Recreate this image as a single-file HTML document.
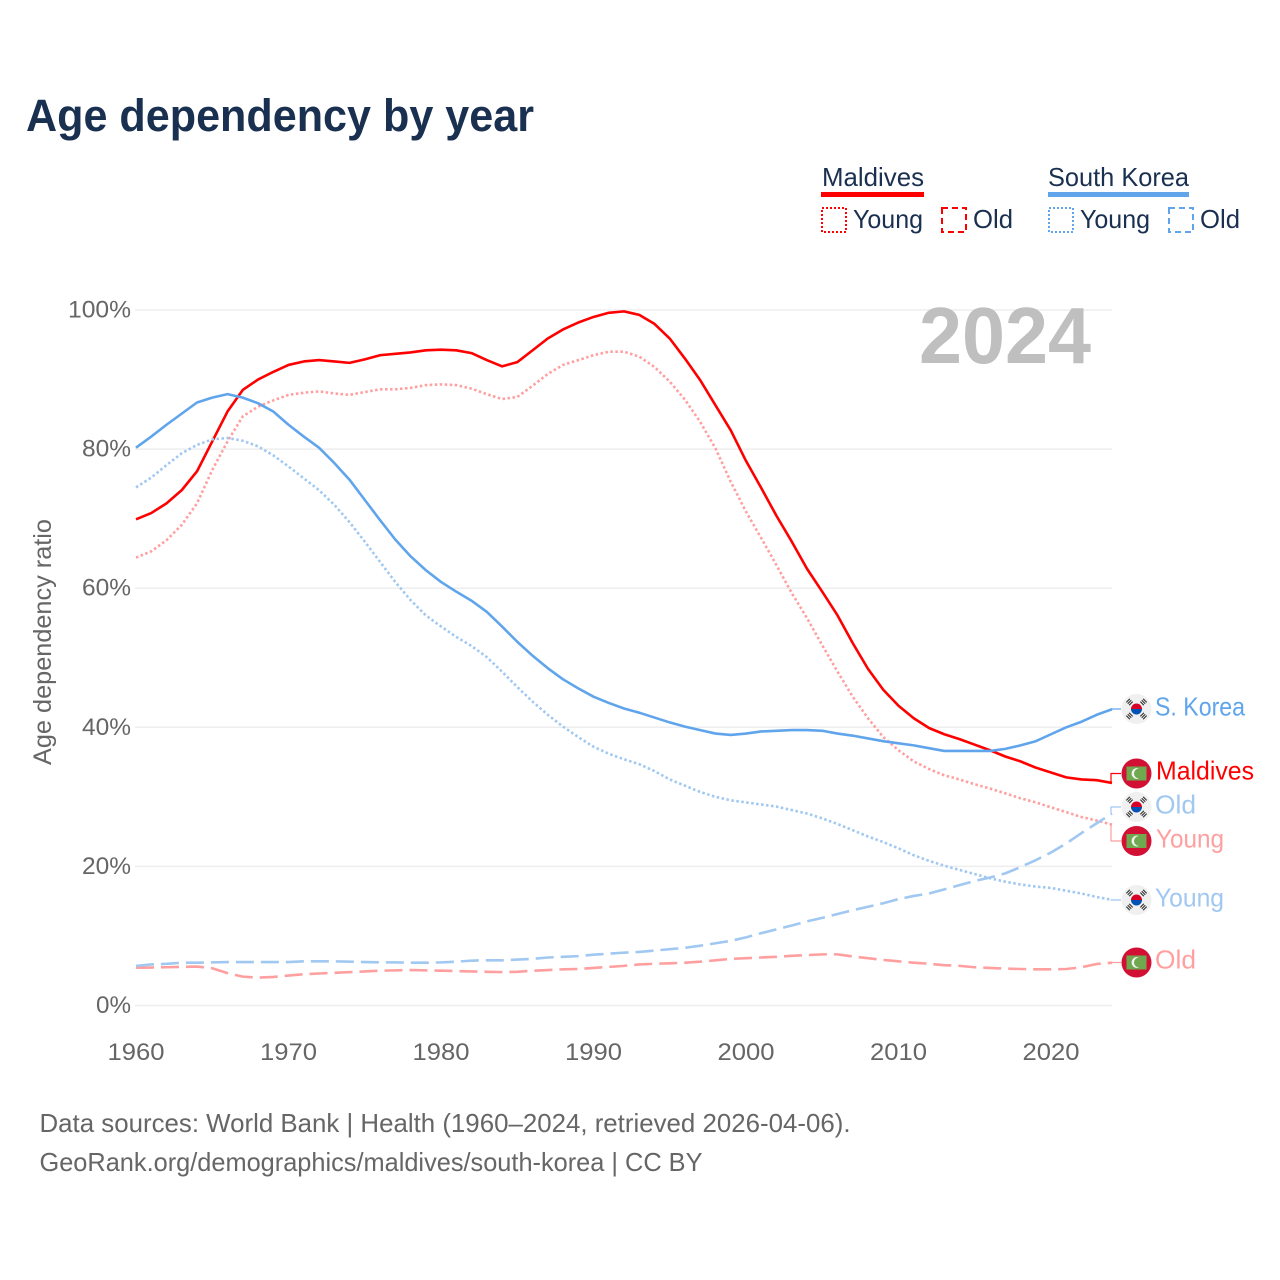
<!DOCTYPE html>
<html>
<head>
<meta charset="utf-8">
<title>Age dependency by year</title>
<style>
html,body{margin:0;padding:0;background:#fff}
svg{display:block}
text{font-family:"Liberation Sans",sans-serif}
</style>
</head>
<body>
<svg id="chart" xmlns="http://www.w3.org/2000/svg" width="1280" height="1280" viewBox="0 0 1280 1280">
<rect x="0" y="0" width="1280" height="1280" fill="#ffffff"/>
<text x="26" y="131" font-size="45" font-weight="700" fill="#1a3050" textLength="508" lengthAdjust="spacingAndGlyphs">Age dependency by year</text>

<g>
<text x="822" y="186" font-size="26" fill="#1a3050" textLength="102" lengthAdjust="spacingAndGlyphs">Maldives</text>
<rect x="821" y="192" width="103" height="5" fill="#ff0000"/>
<rect x="822" y="208" width="24" height="24" fill="none" stroke="#ff0000" stroke-width="2" stroke-dasharray="2 2"/>
<text x="853" y="228" font-size="26" fill="#1a3050" textLength="70" lengthAdjust="spacingAndGlyphs">Young</text>
<rect x="942" y="208" width="24" height="24" fill="none" stroke="#ff0000" stroke-width="2" stroke-dasharray="6 4"/>
<text x="973" y="228" font-size="26" fill="#1a3050" textLength="40" lengthAdjust="spacingAndGlyphs">Old</text>
<text x="1048" y="186" font-size="26" fill="#1a3050" textLength="141" lengthAdjust="spacingAndGlyphs">South Korea</text>
<rect x="1048" y="192" width="141" height="5" fill="#60a5ec"/>
<rect x="1049" y="208" width="24" height="24" fill="none" stroke="#60a5ec" stroke-width="2" stroke-dasharray="2 2"/>
<text x="1080" y="228" font-size="26" fill="#1a3050" textLength="70" lengthAdjust="spacingAndGlyphs">Young</text>
<rect x="1169" y="208" width="24" height="24" fill="none" stroke="#60a5ec" stroke-width="2" stroke-dasharray="6 4"/>
<text x="1200" y="228" font-size="26" fill="#1a3050" textLength="40" lengthAdjust="spacingAndGlyphs">Old</text>
</g>

<g id="grid"></g>
<text x="919" y="363" font-size="80" font-weight="700" fill="#bfbfbf" textLength="172" lengthAdjust="spacingAndGlyphs">2024</text>
<g id="yticks"></g>
<g id="xticks"></g>
<text transform="translate(51,642) rotate(-90)" text-anchor="middle" font-size="25" fill="#666666" textLength="246" lengthAdjust="spacingAndGlyphs">Age dependency ratio</text>
<g id="lines"></g>
<g id="ends"></g>

<text x="39.5" y="1132" font-size="26" fill="#666666" textLength="811" lengthAdjust="spacingAndGlyphs">Data sources: World Bank | Health (1960–2024, retrieved 2026-04-06).</text>
<text x="39.5" y="1171" font-size="26" fill="#666666" textLength="663" lengthAdjust="spacingAndGlyphs">GeoRank.org/demographics/maldives/south-korea | CC BY</text>
</svg>
<script>
const firstYear = 1960;
const yTickValues = [0, 20, 40, 60, 80, 100];
const xTickYears = [1960, 1970, 1980, 1990, 2000, 2010, 2020];
const maldivesTotal = [69.9,70.8,72.2,74.1,76.8,81.1,85.4,88.5,90,91.1,92.1,92.6,92.8,92.6,92.4,92.9,93.5,93.7,93.9,94.2,94.3,94.2,93.8,92.8,91.9,92.5,94.2,95.9,97.2,98.2,99,99.6,99.8,99.3,98,95.9,93,89.9,86.3,82.7,78.3,74.4,70.4,66.7,62.8,59.5,56.1,52.1,48.4,45.4,43.1,41.3,39.9,39,38.3,37.5,36.7,35.8,35.1,34.2,33.5,32.8,32.5,32.4,32];
const maldivesYoung = [64.4,65.3,66.9,69.1,72.2,77,81.1,84.7,86.1,87,87.8,88.1,88.3,88,87.8,88.2,88.6,88.6,88.8,89.2,89.3,89.2,88.7,87.9,87.2,87.5,89.1,90.8,92.1,92.8,93.5,94,94,93.3,91.8,89.7,87.1,83.9,80.1,75.3,71,67.2,63.3,59.3,55.7,51.8,48,44.4,41.3,38.6,36.7,35.1,34,33.1,32.5,31.8,31.2,30.5,29.8,29.2,28.5,27.8,27.1,26.6,26];
const maldivesOld = [5.44,5.46,5.5,5.55,5.6,5.35,4.65,4.15,4,4.1,4.3,4.5,4.6,4.7,4.8,4.9,5,5.05,5.1,5.05,5,4.95,4.9,4.85,4.8,4.85,5,5.1,5.2,5.25,5.4,5.55,5.7,5.9,6,6.07,6.15,6.3,6.5,6.7,6.8,6.9,7,7.15,7.25,7.35,7.35,7.05,6.8,6.55,6.35,6.15,6,5.8,5.7,5.5,5.4,5.3,5.25,5.2,5.2,5.25,5.5,5.97,6.15];
const koreaTotal = [80.2,81.8,83.5,85.1,86.7,87.4,87.9,87.4,86.6,85.4,83.5,81.8,80.2,78,75.6,72.7,69.8,67,64.6,62.6,60.9,59.5,58.2,56.6,54.5,52.3,50.3,48.5,46.9,45.6,44.4,43.5,42.7,42.1,41.4,40.7,40.1,39.6,39.1,38.9,39.1,39.4,39.5,39.6,39.6,39.5,39.1,38.8,38.4,38,37.7,37.4,37,36.6,36.6,36.6,36.6,36.9,37.4,38,39,40,40.8,41.8,42.6];
const koreaYoung = [74.5,75.9,77.7,79.4,80.6,81.4,81.6,81.2,80.4,79.1,77.5,75.8,74.1,72,69.5,66.7,63.8,60.9,58.3,56.1,54.5,53,51.7,50.1,48,45.8,43.7,41.8,40.1,38.6,37.2,36.2,35.4,34.7,33.7,32.5,31.6,30.7,30,29.5,29.2,28.9,28.6,28.1,27.6,26.9,26.1,25.2,24.3,23.5,22.6,21.6,20.8,20.1,19.5,18.9,18.3,17.8,17.4,17.1,16.9,16.5,16.1,15.6,15.2];
const koreaOld = [5.7,5.9,6,6.15,6.15,6.2,6.25,6.25,6.25,6.25,6.25,6.35,6.35,6.35,6.3,6.25,6.2,6.2,6.15,6.15,6.2,6.3,6.45,6.5,6.5,6.6,6.7,6.9,7,7.1,7.3,7.45,7.6,7.7,7.9,8.1,8.3,8.6,8.95,9.3,9.8,10.4,10.95,11.5,12.1,12.6,13.15,13.7,14.2,14.7,15.3,15.75,16.1,16.7,17.3,17.9,18.4,19,19.9,20.9,22,23.3,24.8,26.2,27.6];

const NS = 'http://www.w3.org/2000/svg';
function xScale(year) { return 136 + (year - 1960) * 15.25; }
function yScale(v) { return 1005.5 - v * 6.955; }
function pathFor(values) {
  return values.map(function (v, i) {
    return (i ? 'L' : 'M') + xScale(firstYear + i).toFixed(2) + ' ' + yScale(v).toFixed(2);
  }).join(' ');
}
function make(tag, parent, attrs) {
  const el = document.createElementNS(NS, tag);
  Object.keys(attrs).forEach(function (k) { el.setAttribute(k, attrs[k]); });
  parent.appendChild(el);
  return el;
}

const gridG = document.getElementById('grid');
const yG = document.getElementById('yticks');
const xG = document.getElementById('xticks');
yTickValues.forEach(function (v) {
  const line = make('line', gridG, {x1: 135, x2: 1112, y1: yScale(v), y2: yScale(v), stroke: '#eeeeee', 'stroke-width': 1.5});
  
  
  const t = make('text', yG, {x: 131, y: yScale(v) + 7.5, 'text-anchor': 'end', 'font-size': 24, fill: '#666666', textLength: v === 100 ? 63 : (v === 0 ? 35 : 49), lengthAdjust: 'spacingAndGlyphs'});
  t.textContent = v + '%';
  
  
});
xTickYears.forEach(function (yr) {
  const t = make('text', xG, {x: xScale(yr), y: 1060, 'text-anchor': 'middle', 'font-size': 24, fill: '#666666', textLength: 57, lengthAdjust: 'spacingAndGlyphs'});
  t.textContent = String(yr);
  
  
});

const linesG = document.getElementById('lines');
function drawSeries(values, color, dash, width, name) {
  const p = make('path', linesG, {d: pathFor(values), fill: 'none', stroke: color, 'stroke-width': width, 'stroke-linejoin': 'round'});
  if (dash) p.setAttribute('stroke-dasharray', dash);
  
  
}
const RED = '#ff0000', BLUE = '#60a5ec', LRED = '#ff9f9f', LBLUE = '#a0c8f1';
drawSeries(maldivesOld, LRED, '18 7', 2.6, 'line-maldives-old');
drawSeries(maldivesYoung, LRED, '2.5 2.5', 2.6, 'line-maldives-young');
drawSeries(maldivesTotal, RED, null, 2.6, 'line-maldives-total');
drawSeries(koreaOld, LBLUE, '18 7', 2.6, 'line-south-korea-old');
drawSeries(koreaYoung, LBLUE, '2.5 2.5', 2.6, 'line-south-korea-young');
drawSeries(koreaTotal, BLUE, null, 2.6, 'line-south-korea-total');

const endsG = document.getElementById('ends');
function drawKoreaFlag(g, cy) {
  make('circle', g, {cx: 1136.5, cy: cy, r: 15, fill: '#f0f0f0'});
  make('path', g, {d: 'M1131 ' + cy + ' a5.5 5.5 0 0 1 11 0 z', fill: '#d80027'});
  make('path', g, {d: 'M1131 ' + cy + ' a5.5 5.5 0 0 0 11 0 z', fill: '#0052b4'});
  [[-7,-7,-45],[7,-7,45],[-7,7,45],[7,7,-45]].forEach(function (q) {
    const cx = 1136.5 + q[0];
    const yy = cy + q[1];
    [-2, 0, 2].forEach(function (o) {
      make('rect', g, {x: cx - 2.5, y: yy + o - 0.55, width: 5, height: 1.1, fill: '#333333', transform: 'rotate(' + q[2] + ' ' + cx + ' ' + yy + ')'});
    });
  });
}
function drawMaldivesFlag(g, cy) {
  make('circle', g, {cx: 1136.5, cy: cy, r: 15, fill: '#d21034'});
  make('rect', g, {x: 1126.5, y: cy - 7, width: 20, height: 14, fill: '#6fa84e'});
  make('path', g, {d: 'M1139 ' + (cy - 5) + ' a5.4 5.4 0 1 0 0 10 a4.6 4.6 0 1 1 0 -10 z', fill: '#f2f2f2'});
}
function drawEnd(values, color, labelText, labelWidth, cy, baseline, labelX, flag, name) {
  const yEnd = yScale(values[values.length - 1]);
  const link = make('path', endsG, {d: 'M1111 ' + yEnd.toFixed(1) + ' V' + cy + ' H1121', fill: 'none', stroke: color, 'stroke-width': 1.2});
  
  
  const g = make('g', endsG, {});
  
  
  if (flag === 'kr') { drawKoreaFlag(g, cy); } else { drawMaldivesFlag(g, cy); }
  const t = make('text', endsG, {x: labelX, y: baseline, 'font-size': 26, fill: color, textLength: labelWidth, lengthAdjust: 'spacingAndGlyphs'});
  t.textContent = labelText;
  
  
}
drawEnd(koreaTotal, BLUE, 'S. Korea', 90, 709, 715.5, 1155, 'kr', 'south-korea-total');
drawEnd(maldivesTotal, RED, 'Maldives', 98, 773.5, 779.5, 1156, 'mv', 'maldives-total');
drawEnd(koreaOld, LBLUE, 'Old', 41, 807, 813.5, 1155, 'kr', 'south-korea-old');
drawEnd(maldivesYoung, LRED, 'Young', 68, 841, 847.5, 1156, 'mv', 'maldives-young');
drawEnd(koreaYoung, LBLUE, 'Young', 69, 900, 906.5, 1155, 'kr', 'south-korea-young');
drawEnd(maldivesOld, LRED, 'Old', 41, 962.5, 968.5, 1155, 'mv', 'maldives-old');
</script>
</body>
</html>
